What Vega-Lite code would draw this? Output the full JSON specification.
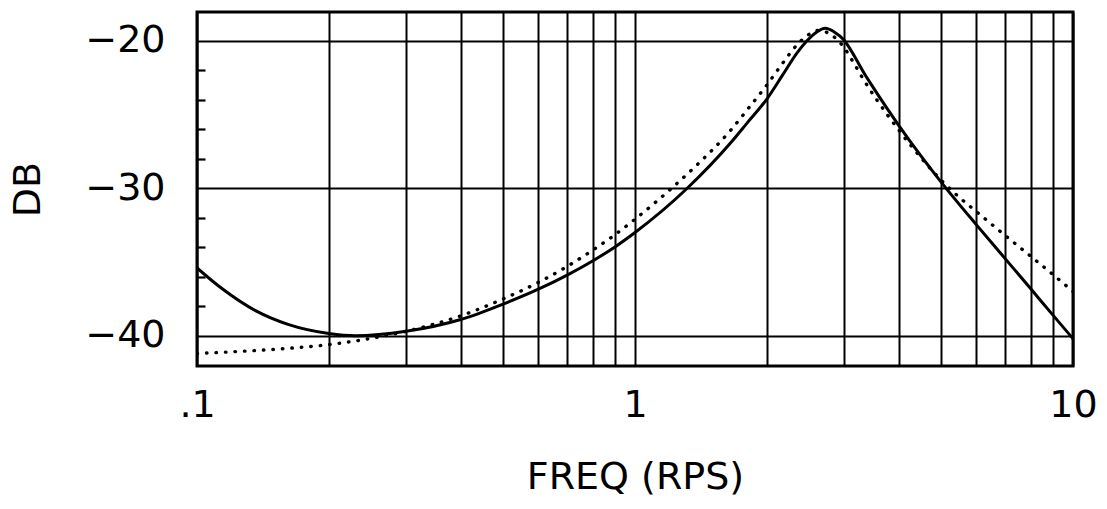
{
  "$schema": "https://vega.github.io/schema/vega-lite/v6.json",
  "width": 876,
  "height": 354,
  "autosize": {"type": "none"},
  "padding": {"left": 197, "top": 12, "right": 34, "bottom": 143},
  "background": "white",
  "config": {
    "view": {"stroke": "black", "strokeWidth": 3},
    "font": "DejaVu Sans",
    "axis": {"labelFont": "DejaVu Sans", "titleFont": "DejaVu Sans", "labelColor": "black", "titleColor": "black", "titleFontWeight": "normal"}
  },
  "datasets": {
    "solid": [
      {"f": 0.1, "db": -35.4}, {"f": 0.114, "db": -36.8}, {"f": 0.136, "db": -38.3},
      {"f": 0.162, "db": -39.25}, {"f": 0.2, "db": -39.85}, {"f": 0.23, "db": -40.0},
      {"f": 0.3, "db": -39.7}, {"f": 0.4, "db": -38.9}, {"f": 0.5, "db": -37.85},
      {"f": 0.6, "db": -36.86}, {"f": 0.7, "db": -35.89}, {"f": 0.8, "db": -34.93},
      {"f": 0.9, "db": -33.98}, {"f": 1.0, "db": -33.0}, {"f": 1.316, "db": -30.0},
      {"f": 1.65, "db": -26.95}, {"f": 1.8, "db": -25.6}, {"f": 2.0, "db": -23.95},
      {"f": 2.17, "db": -22.35}, {"f": 2.34, "db": -20.85}, {"f": 2.47, "db": -20.0},
      {"f": 2.6, "db": -19.4}, {"f": 2.72, "db": -19.15}, {"f": 2.85, "db": -19.4},
      {"f": 3.0, "db": -19.95}, {"f": 3.17, "db": -21.05}, {"f": 3.32, "db": -22.1},
      {"f": 3.5, "db": -23.18}, {"f": 4.0, "db": -25.73}, {"f": 4.5, "db": -27.82},
      {"f": 5.0, "db": -29.58}, {"f": 6.0, "db": -32.43}, {"f": 7.0, "db": -34.77},
      {"f": 8.0, "db": -36.8}, {"f": 9.0, "db": -38.6}, {"f": 10.0, "db": -40.2}
    ],
    "dotted": [
      {"f": 0.1, "db": -41.2}, {"f": 0.136, "db": -41.0}, {"f": 0.162, "db": -40.85},
      {"f": 0.2, "db": -40.6}, {"f": 0.247, "db": -40.2}, {"f": 0.3, "db": -39.7},
      {"f": 0.4, "db": -38.65}, {"f": 0.5, "db": -37.5}, {"f": 0.6, "db": -36.4},
      {"f": 0.7, "db": -35.3}, {"f": 0.8, "db": -34.2}, {"f": 0.9, "db": -33.15},
      {"f": 1.0, "db": -32.1}, {"f": 1.228, "db": -29.85}, {"f": 1.387, "db": -28.4},
      {"f": 1.65, "db": -26.1}, {"f": 1.83, "db": -24.45}, {"f": 2.0, "db": -23.0},
      {"f": 2.17, "db": -21.55}, {"f": 2.34, "db": -20.3}, {"f": 2.5, "db": -19.55},
      {"f": 2.62, "db": -19.3}, {"f": 2.75, "db": -19.45}, {"f": 2.9, "db": -19.95},
      {"f": 3.0, "db": -20.45}, {"f": 3.15, "db": -21.45}, {"f": 3.32, "db": -22.6},
      {"f": 3.75, "db": -24.93}, {"f": 4.0, "db": -26.05}, {"f": 4.5, "db": -27.94},
      {"f": 5.0, "db": -29.45}, {"f": 5.5, "db": -30.61}, {"f": 6.0, "db": -31.55},
      {"f": 7.0, "db": -33.2}, {"f": 8.0, "db": -34.6}, {"f": 9.0, "db": -35.85},
      {"f": 10.0, "db": -37.0}
    ]
  },
  "resolve": {"axis": {"y": "independent", "x": "independent"}},
  "layer": [
    {
      "data": {"name": "solid"},
      "mark": {"type": "line", "color": "black", "strokeWidth": 3, "interpolate": "monotone", "clip": true},
      "encoding": {
        "x": {
          "field": "f", "type": "quantitative",
          "scale": {"type": "log", "domain": [0.1, 10], "nice": false},
          "axis": {
            "values": [0.1, 0.2, 0.3, 0.4, 0.5, 0.6, 0.7, 0.8, 0.9, 1, 2, 3, 4, 5, 6, 7, 8, 9, 10],
            "labelExpr": "datum.value == 0.1 ? '.1' : (datum.value == 1 ? '1' : (datum.value == 10 ? '10' : ''))",
            "grid": true, "gridColor": "black", "gridWidth": 2, "gridOpacity": 1,
            "ticks": false, "tickSize": 0, "domain": false,
            "labelFontSize": 38, "labelPadding": 20, "labelFlush": false, "labelOverlap": false,
            "title": "FREQ (RPS)", "titleFontSize": 38, "titleY": 92, "titleBaseline": "top"
          }
        },
        "y": {
          "field": "db", "type": "quantitative",
          "scale": {"domain": [-42.05, -18.05], "nice": false, "zero": false},
          "axis": {
            "values": [-40, -30, -20],
            "grid": true, "gridColor": "black", "gridWidth": 2.2, "gridOpacity": 1,
            "ticks": false, "tickSize": 0, "domain": false,
            "labelFontSize": 38, "labelPadding": 32,
            "title": "DB", "titleFontSize": 38, "titleAngle": 270, "titleBaseline": "middle",
            "titleX": -169, "titleY": 177
          }
        }
      }
    },
    {
      "data": {"name": "dotted"},
      "mark": {"type": "line", "color": "black", "strokeWidth": 3.4, "strokeDash": [0.5, 9], "strokeCap": "round", "interpolate": "monotone", "clip": true},
      "encoding": {
        "x": {"field": "f", "type": "quantitative", "scale": {"type": "log", "domain": [0.1, 10], "nice": false}, "axis": null},
        "y": {
          "field": "db", "type": "quantitative",
          "scale": {"domain": [-42.05, -18.05], "nice": false, "zero": false},
          "axis": {
            "orient": "left",
            "values": [-38, -36, -34, -32, -28, -26, -24, -22],
            "grid": false, "labels": false, "domain": false, "title": null,
            "ticks": true, "tickSize": -8, "tickWidth": 2.2, "tickColor": "black"
          }
        }
      }
    }
  ]
}
